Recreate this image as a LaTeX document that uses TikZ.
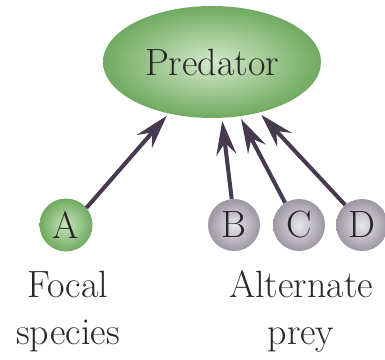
\documentclass[tikz,border=0pt]{standalone}
\usepackage{fontspec}
\usepackage{tikz}
\usetikzlibrary{arrows.meta, positioning, shapes.geometric}

\definecolor{predgreen}{RGB}{112,170,96}
\definecolor{predlight}{RGB}{200,228,188}
\definecolor{preygray}{RGB}{156,150,162}
\definecolor{preylight}{RGB}{232,230,236}
\definecolor{arrowplum}{RGB}{72,58,78}
\definecolor{inkgray}{RGB}{40,38,40}

\begin{document}
\begin{tikzpicture}[x=1pt, y=1pt, >={Stealth[length=34pt, width=20pt, inset=12pt]},
        every node/.style={text=inkgray, font=\fontsize{38}{47}\selectfont},
        species/.style={circle, inner sep=0pt, minimum size=53pt, shading=radial},
        focal/.style={species, inner color=predlight, outer color=predgreen},
        alternate/.style={species, minimum size=52pt, inner color=preylight, outer color=preygray},
        eats/.style={->, draw=arrowplum, fill=arrowplum, line width=4pt}]
        \useasboundingbox (0,0) rectangle (385,359);
        % Predator
        \node [ellipse, shading=radial, inner color=predlight!80!white, outer color=predgreen,
               minimum width=218pt, minimum height=112pt, inner sep=0pt] (pred) at (212,297) {Predator};
        % Prey
        \node [focal] (A) at (66,134) {A};
        \node [alternate] (B) at (234,134) {B};
        \node [alternate] (C) at (299,134) {C};
        \node [alternate] (D) at (362,134) {D};
        % Labels
        \node [align=center, anchor=base] (focallbl) at (68,15) {Focal\\species};
        \node [align=center, anchor=base] (altlbl) at (301,15) {Alternate\\prey};
        % Arrows
        \draw [eats, shorten >=3pt] (A.40) -- (pred.230);
        \draw [eats, shorten >=3pt] (B.95) -- (pred.280);
        \draw [eats, shorten >=3pt] (C.122) -- (pred.297);
        \draw [eats, shorten >=3pt] (D.130) -- (pred.313);
    \end{tikzpicture}
\end{document}
